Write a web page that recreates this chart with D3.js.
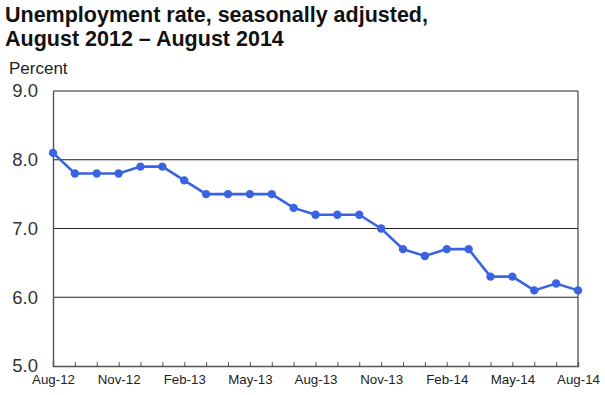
<!DOCTYPE html>
<html>
<head>
<meta charset="utf-8">
<script src="https://cdn.jsdelivr.net/npm/d3@7"></script>
<style>
  body { margin: 0; background: #fff; }
  svg { font-family: "Liberation Sans", Arial, sans-serif; }
</style>
</head>
<body>
<svg width="605" height="395"></svg>
<script>
// monthly unemployment rate, Aug 2012 .. Aug 2014
var months = ["Aug-12","Sep-12","Oct-12","Nov-12","Dec-12","Jan-13","Feb-13","Mar-13","Apr-13","May-13","Jun-13","Jul-13",
              "Aug-13","Sep-13","Oct-13","Nov-13","Dec-13","Jan-14","Feb-14","Mar-14","Apr-14","May-14","Jun-14","Jul-14","Aug-14"];
var rates = [8.1,7.8,7.8,7.8,7.9,7.9,7.7,7.5,7.5,7.5,7.5,7.3,7.2,7.2,7.2,7.0,6.7,6.6,6.7,6.7,6.3,6.3,6.1,6.2,6.1];
var yTicks = [5, 6, 7, 8, 9];
var xLabels = ["Aug-12","Nov-12","Feb-13","May-13","Aug-13","Nov-13","Feb-14","May-14","Aug-14"];

var svg = d3.select("svg"),
    margin = {top: 91, right: 27, bottom: 29, left: 53},
    width = +svg.attr("width") - margin.left - margin.right,
    height = +svg.attr("height") - margin.top - margin.bottom;

var x = d3.scalePoint().domain(months).range([0, width]),
    y = d3.scaleLinear().domain([5, 9]).range([height, 0]);

// title
svg.append("text")
    .attr("x", 5).attr("y", 22)
    .attr("font-size", "21.5px").attr("font-weight", "bold").attr("fill", "#111")
    .text("Unemployment rate, seasonally adjusted,");
svg.append("text")
    .attr("x", 5).attr("y", 46)
    .attr("font-size", "21.5px").attr("font-weight", "bold").attr("fill", "#111")
    .text("August 2012 \u2013 August 2014");
svg.append("text")
    .attr("x", 9).attr("y", 74)
    .attr("font-size", "17px").attr("fill", "#222")
    .text("Percent");

var g = svg.append("g")
    .attr("transform", "translate(" + margin.left + "," + margin.top + ")");

// horizontal gridlines
g.selectAll(".grid")
  .data(yTicks.slice(1))
  .enter().append("line")
    .attr("x1", 0).attr("x2", width)
    .attr("y1", function(d) { return y(d); })
    .attr("y2", function(d) { return y(d); })
    .attr("stroke", "#222").attr("stroke-width", 1.2);

// right border
g.append("line")
    .attr("x1", width).attr("x2", width)
    .attr("y1", 0).attr("y2", height)
    .attr("stroke", "#444").attr("stroke-width", 1.2);

// y axis
var yAxis = g.append("g")
    .call(d3.axisLeft(y).tickValues(yTicks).tickSize(0).tickPadding(15).tickFormat(d3.format(".1f")));
yAxis.select(".domain").attr("stroke", "#555").attr("stroke-width", 1.4);
yAxis.selectAll("text").attr("font-size", "18.5px").attr("fill", "#333").attr("font-family", "Liberation Sans, Arial, sans-serif");

// x axis, ticks pointing up
var xAxis = g.append("g")
    .attr("transform", "translate(0," + height + ")")
    .call(d3.axisBottom(x).tickSize(-4).tickPadding(9)
      .tickFormat(function(d) { return xLabels.indexOf(d) >= 0 ? d : ""; }));
xAxis.select(".domain").attr("stroke", "#555").attr("stroke-width", 1.4);
xAxis.selectAll("line").attr("stroke", "#555");
xAxis.selectAll("text").attr("font-size", "13.3px").attr("fill", "#222").attr("font-family", "Liberation Sans, Arial, sans-serif");

// series
var line = d3.line()
    .x(function(d, i) { return x(months[i]); })
    .y(function(d) { return y(d); });

g.append("path")
    .datum(rates)
    .attr("fill", "none")
    .attr("stroke", "#3a63e3")
    .attr("stroke-width", 2.6)
    .attr("d", line);

g.selectAll(".dot")
  .data(rates)
  .enter().append("circle")
    .attr("class", "dot")
    .attr("cx", function(d, i) { return x(months[i]); })
    .attr("cy", function(d) { return y(d); })
    .attr("r", 4.2)
    .attr("fill", "#3a63e3");
</script>
</body>
</html>
